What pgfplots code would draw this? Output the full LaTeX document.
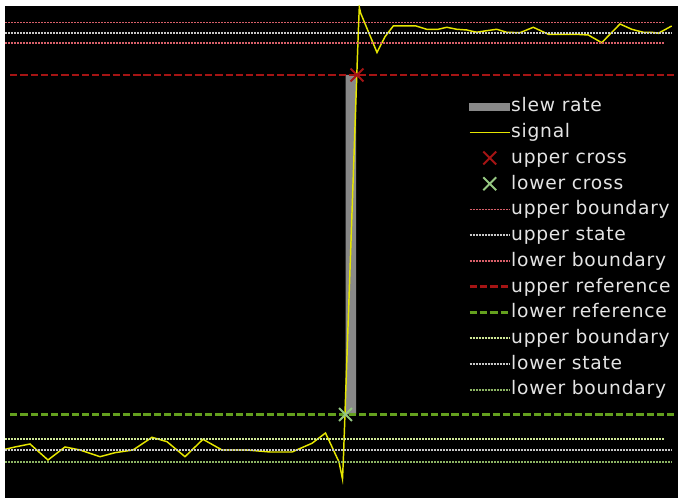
\documentclass[border=0pt]{standalone}
\usepackage{pgfplots}
\pgfplotsset{compat=1.18}
\usepackage{fontspec}
\newfontfamily\legfont[LetterSpace=4]{DejaVu Sans}
\definecolor{sig}{RGB}{230,230,0}
\definecolor{slew}{RGB}{136,136,136}
\definecolor{ubred}{RGB}{215,95,105}
\definecolor{stategray}{RGB}{200,200,200}
\definecolor{uref}{RGB}{165,20,20}
\definecolor{lref}{RGB}{100,160,30}
\definecolor{lbup}{RGB}{205,230,150}
\definecolor{lblow}{RGB}{140,180,100}
\definecolor{lcross}{RGB}{150,200,130}
\definecolor{legtext}{RGB}{228,228,228}
\begin{document}
\begin{tikzpicture}
\fill[white] (-3.75pt,0) rectangle (504.75pt,373.5pt);
\fill[black] (0,0) rectangle (504.75pt,369pt);
\begin{axis}[
  at={(0,0)}, anchor=south west,
  scale only axis, width=504.75pt, height=369pt,
  xmin=5, xmax=678, ymin=0, ymax=492,
  hide axis, clip=true,
  legend image code/.code={\draw[mark repeat=2,mark phase=2,#1] plot coordinates {(0pt,0pt) (15pt,0pt) (30pt,0pt)};},
  legend style={at={(axis cs:468,401)}, anchor=north west, fill=black, draw=none,
    inner sep=0pt, text=legtext, font=\legfont\fontsize{14pt}{16pt}\selectfont,
    nodes={inner sep=0pt, text height=11pt, text depth=3pt},
    row sep=5.3pt, cells={anchor=west},
    /tikz/every odd column/.style={column sep=0pt}},
  dotted line/.style={line width=1.3pt, dash pattern=on 1.5pt off 0.75pt},
  ref line/.style={line width=2.2pt, dash pattern=on 5.5pt off 2.2pt},
]
\addplot[fill=slew, draw=none, forget plot] coordinates {(345.5,83.5) (356,83.5) (356,423) (345.5,423) (345.5,83.5)};
\addlegendimage{legend image code/.code={\fill[slew] (0pt,-2.6pt) rectangle (30pt,2.6pt);}}
\addlegendentry{slew rate}
\addplot[sig, line width=1.1pt, mark=none] coordinates {
(5,48.7) (15,51) (30,54) (48,38) (65,51) (80,48) (100,41.3) (115,45.3) (133,48)
(152,60.7) (167,56.3) (185,41.3) (203,58.7) (222,48) (247,48) (270,46) (292,46)
(312,54.7) (325.5,65) (339,36) (342.5,19) (343.5,42) (358.3,466) (359.3,490.7)
(360.7,484.7) (377,445.5) (385,461.3) (393.3,472) (416,472) (426.7,468.7)
(438.3,468.7) (446.7,470.7) (456.7,468.7) (466.7,468) (476.7,465.7) (486.7,467.3)
(496.7,468.7) (506.7,465.7) (520,465.3) (533.3,470.7) (548.3,463.7) (575,463.7)
(588.3,463) (601.7,455.3) (620,474) (631.7,468.7) (643.3,465.7) (651.7,465.7)
(658.3,464.7) (671.7,472)};
\addlegendentry{signal}
\addplot[uref, only marks, mark=x, mark size=6.8pt, line width=1.5pt] coordinates {(357,423)};
\addlegendentry{upper cross}
\addplot[lcross, only marks, mark=x, mark size=6.8pt, line width=1.5pt] coordinates {(345.5,83.5)};
\addlegendentry{lower cross}
\addplot[ubred, dotted line] coordinates {(5,475.5) (665,475.5)};
\addlegendentry{upper boundary}
\addplot[stategray, dotted line] coordinates {(5,465) (672,465)};
\addlegendentry{upper state}
\addplot[ubred, dotted line] coordinates {(5,454.7) (665,454.7)};
\addlegendentry{lower boundary}
\addplot[uref, ref line] coordinates {(10,423) (676,423)};
\addlegendentry{upper reference}
\addplot[lref, ref line] coordinates {(10,83.5) (676,83.5)};
\addlegendentry{lower reference}
\addplot[lbup, dotted line] coordinates {(5,59) (665,59)};
\addlegendentry{upper boundary}
\addplot[stategray, dotted line] coordinates {(5,48) (672,48)};
\addlegendentry{lower state}
\addplot[lblow, dotted line] coordinates {(5,36) (672,36)};
\addlegendentry{lower boundary}
\end{axis}
\end{tikzpicture}
\end{document}
